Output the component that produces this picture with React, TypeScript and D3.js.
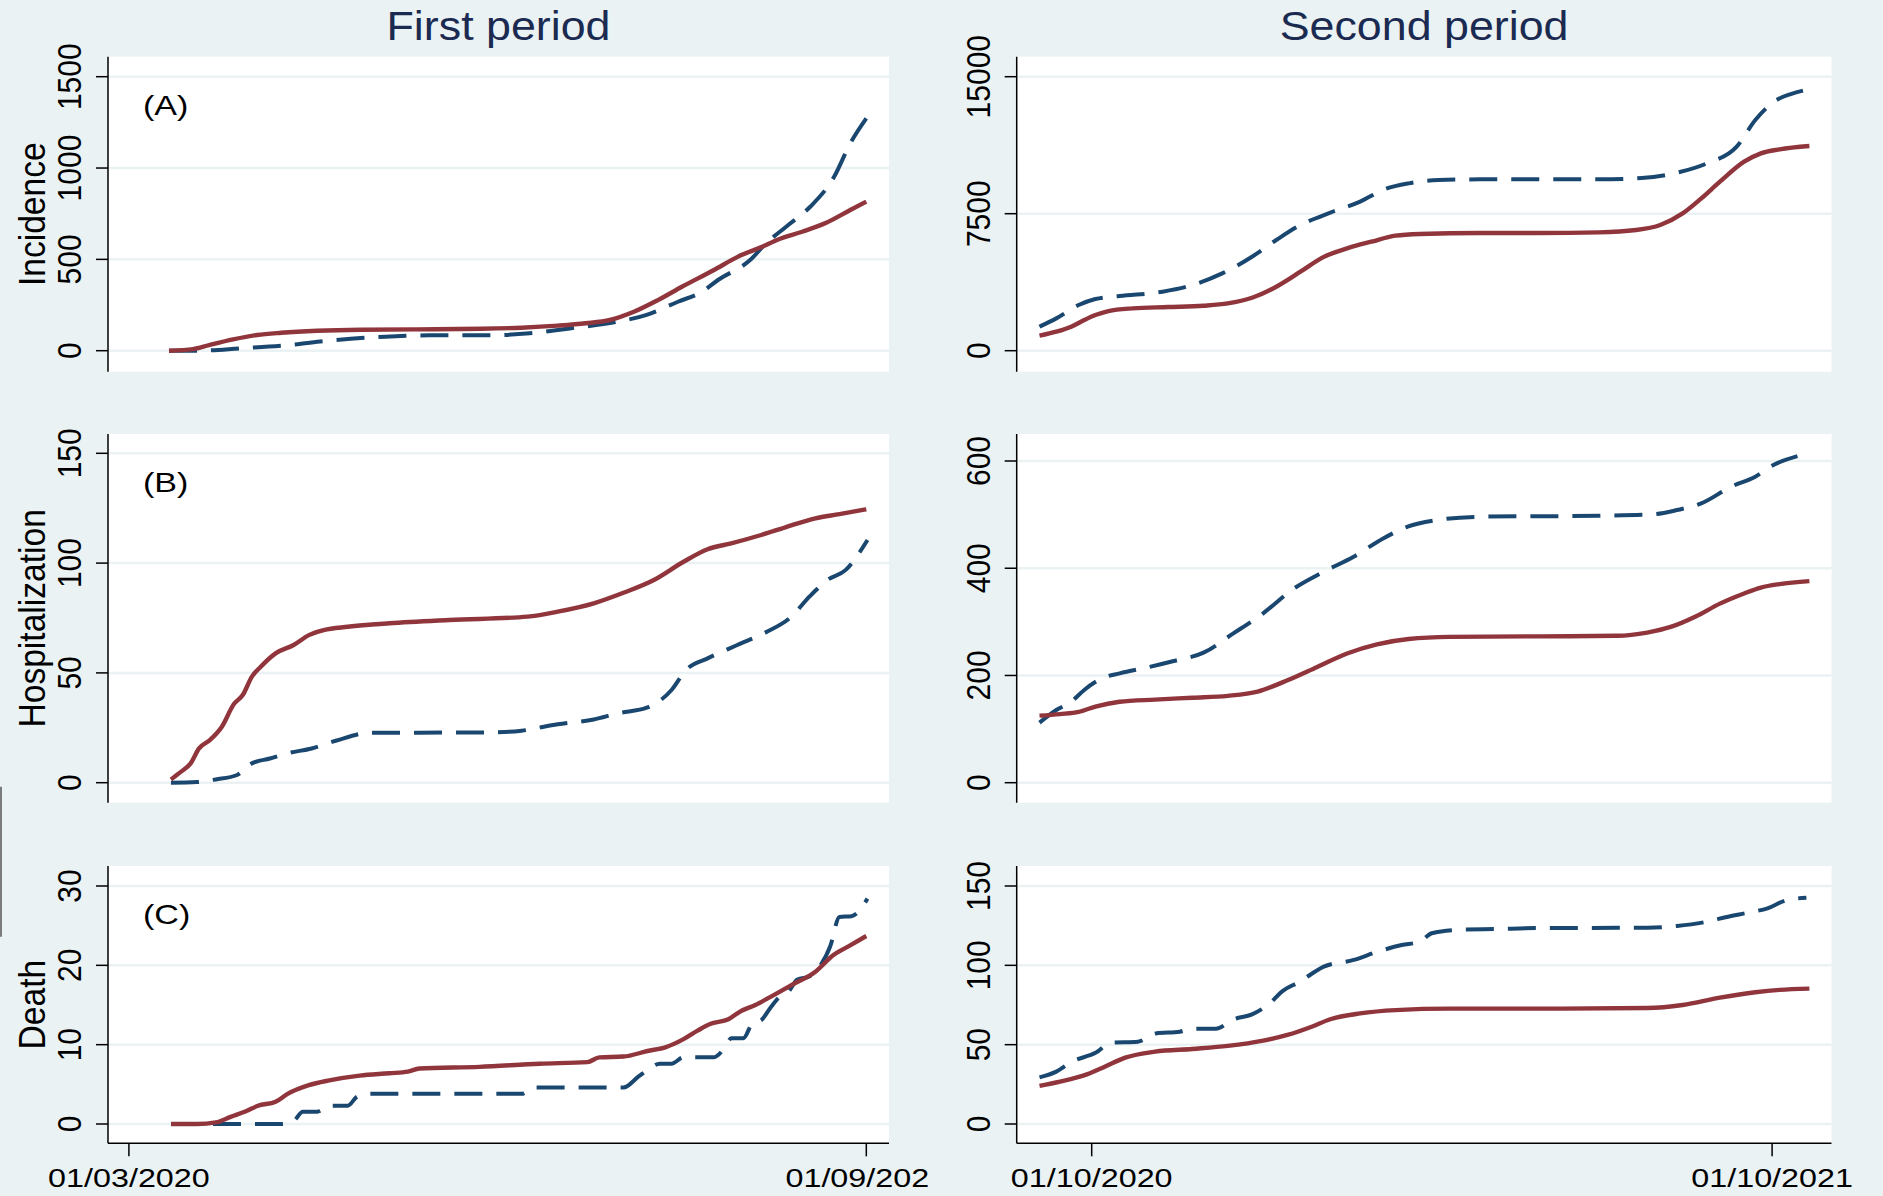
import React from 'react'
import * as d3 from 'd3'

// day offsets: first period from 01/03/2020, second period from 01/10/2020
const firstBase = Date.UTC(2020, 2, 1)
const secondBase = Date.UTC(2020, 9, 1)

const periodTitles = ['First period', 'Second period']
const rowTitles = ['Incidence', 'Hospitalization', 'Death']
const panelLabels = ['(A)', '(B)', '(C)']
const firstTickLabels = ['01/03/2020', '01/09/2020']
const secondTickLabels = ['01/10/2020', '01/10/2021']

const incidenceFirstSolid: [number, number][] = [[10,0],[16,9],[20,31],[26,62],[32,86],[38,98],[47,109],[58,115],[72,117],[88,120],[98,126],[107,137],[114,150],[120,168],[126,213],[132,277],[138,350],[146,442],[152,515],[158,569],[162,609],[168,651],[174,700],[180,770],[184,816]]
const incidenceFirstDashed: [number, number][] = [[10,0],[17,0],[28,13],[40,31],[50,55],[64,77],[75,84],[88,84],[100,95],[110,122],[122,159],[129,195],[137,268],[143,323],[147,387],[155,496],[159,588],[164,679],[170,788],[176,953],[180,1135],[184,1272]]
const incidenceSecondSolid: [number, number][] = [[-28,821],[-19,1040],[-11,1314],[-4,1679],[2,1953],[9,2172],[22,2318],[41,2390],[60,2463],[73,2591],[86,2901],[99,3504],[112,4325],[124,5109],[137,5602],[150,5967],[163,6296],[176,6387],[208,6442],[240,6442],[272,6478],[292,6606],[305,6880],[317,7518],[327,8339],[337,9252],[350,10347],[359,10803],[369,11022],[385,11204]]
const incidenceSecondDashed: [number, number][] = [[-28,1314],[-19,1770],[-7,2500],[2,2828],[15,2993],[38,3230],[54,3595],[70,4234],[86,5146],[99,6058],[112,6880],[128,7555],[144,8157],[157,8832],[170,9161],[186,9343],[208,9380],[272,9380],[295,9453],[314,9745],[330,10255],[346,11168],[356,12628],[366,13631],[375,14051],[383,14270]]

const hospFirstSolid: [number, number][] = [[10.5,1.5],[12.7,4.6],[15.4,8.8],[17.5,15.6],[20.2,19.4],[23.2,25.5],[26.2,35.8],[28.4,39.9],[30.7,48.3],[32.9,52.8],[36.6,58.9],[41.1,62.7],[44.9,67.2],[48.6,69.5],[54.6,71],[65,72.6],[80,74.1],[99.5,75.6],[107,77.9],[116,81.7],[123.4,86.5],[131,92.3],[138.4,100.6],[144.4,106.3],[150.3,109],[157.8,112.8],[163.8,116.3],[171.3,120.4],[177.3,122.3],[184,124.5]]
const hospFirstDashed: [number, number][] = [[10.5,0],[17,0.3],[21.7,1.5],[27,3.5],[30.7,8.8],[35.2,11],[39.6,13.4],[45.6,15.6],[51.6,19.1],[60.6,22.8],[72.5,22.8],[90.5,22.9],[98,23.7],[107,26.6],[116,28.8],[122,31.6],[129.4,34.3],[135.4,42.2],[139,51.3],[144.4,56.6],[151.8,62.7],[159.3,68.8],[165.3,75.6],[169.8,84.7],[174.3,92.3],[178.8,96.8],[184.3,110.5]]
const hospSecondSolid: [number, number][] = [[-28,125],[-17,128],[-7,132],[2,142],[15,151],[34,155],[54,158.5],[73,162],[89,170],[105,191],[121,216],[137,241],[153,258],[170,268],[192,272],[240,273],[282,274],[298,280],[311,291],[324,310],[337,334],[350,353],[359,364],[369,370.5],[385,376]]
const hospSecondDashed: [number, number][] = [[-28,112],[-19,135.5],[-11,151],[-4,173],[5.5,194.6],[15,204],[31,216],[44,227],[60,242.5],[76,278.5],[92,316],[108,361],[124.5,393.5],[140.5,421.5],[156.6,456],[169.5,477.5],[185.6,490],[208,496],[272,498],[301,500.5],[314,508.5],[327,521],[343,552],[356,570.7],[365.7,592.5],[378.6,609]]

const deathFirstSolid: [number, number][] = [[10.5,0],[17,0],[21.7,0.2],[25.4,0.9],[29.2,1.6],[32.2,2.3],[36.6,2.8],[39.6,3.8],[44.9,4.9],[50,5.5],[57.6,6.1],[65,6.4],[69.6,6.6],[72.5,7.0],[87.5,7.2],[102.5,7.6],[114.4,7.8],[117.4,8.4],[123.4,8.5],[129.4,9.2],[134,9.7],[138.4,10.7],[142,11.8],[145,12.6],[149.6,13.2],[152.6,14.2],[156.3,15],[160,16],[165.3,17.5],[171.3,19.2],[175.8,21.3],[180.3,22.6],[184,23.7]]
const deathFirstDashed: [number, number][] = [[10.5,0],[38,0],[41,0.3],[43.4,1.55],[47,1.55],[50,2.3],[54.6,2.3],[56.8,3.4],[59,3.8],[98,3.8],[101,4.6],[123.4,4.6],[127.2,6.0],[130,7.0],[132.4,7.6],[135.4,7.6],[138.4,8.4],[145.8,8.4],[148.8,9.7],[150.3,10.8],[153.3,10.8],[155.6,12.7],[157.8,13.1],[160,14.6],[162.3,16],[164.6,16.7],[166.8,18.2],[169.8,18.6],[172,19.6],[175,22.4],[177.3,26.1],[180.3,26.2],[184.3,28.4]]
const deathSecondSolid: [number, number][] = [[-28,24],[-17,26.7],[-2.6,31.3],[7,36.1],[18,41.8],[34,45.6],[54,47.3],[73,49.2],[92,52.5],[105,56.1],[118,61.3],[128,66],[144,69.7],[163,71.8],[192,72.7],[240,72.7],[298,73.1],[317,75],[337,79.6],[356,83],[369,84.5],[385,85.3]]
const deathSecondDashed: [number, number][] = [[-28,29.4],[-19,33],[-10.6,39.3],[2.3,45],[10.3,51.3],[24.8,51.9],[34.4,57.1],[47.3,58.2],[53.7,60.1],[66.6,60.1],[76.2,66],[86,69.1],[95.5,76],[102,83.4],[111.6,89.7],[124.5,99.2],[140.5,103.4],[153.4,108.6],[166.3,112.8],[176,114.9],[182.4,120.2],[195.3,122.3],[217.8,122.9],[240.3,123.5],[298,123.7],[314,124.8],[330,127.5],[340,130.3],[352.8,133.4],[362.5,135.9],[372,140.8],[383.4,142.6]]

const yTicks = [
  [[0, 500, 1000, 1500], [0, 7500, 15000]],
  [[0, 50, 100, 150], [0, 200, 400, 600]],
  [[0, 10, 20, 30], [0, 50, 100, 150]],
]
const series = [
  [[incidenceFirstSolid, incidenceFirstDashed], [incidenceSecondSolid, incidenceSecondDashed]],
  [[hospFirstSolid, hospFirstDashed], [hospSecondSolid, hospSecondDashed]],
  [[deathFirstSolid, deathFirstDashed], [deathSecondSolid, deathSecondDashed]],
]

const W = 1883
const H = 1196
const BG = '#eaf2f3'
const RED = '#90353b'
const BLUE = '#1a476f'
const FONT = '"Liberation Sans", Arial, Helvetica, sans-serif'

// layout
const cols = [
  { x0: 108, x1: 889, base: firstBase, dates: [Date.UTC(2020, 2, 1), Date.UTC(2020, 8, 1)], px: [128.9, 866.3], labels: firstTickLabels },
  { x0: 1016.7, x1: 1831.5, base: secondBase, dates: [Date.UTC(2020, 9, 1), Date.UTC(2021, 9, 1)], px: [1091.7, 1772.1], labels: secondTickLabels },
]
const rows = [
  { top: 56.7, bottom: 371.7, zeroY: 350.7, maxY: 76.7 },
  { top: 434, bottom: 802.7, zeroY: 782.7, maxY: [453.3, 461] },
  { top: 866, bottom: 1143.3, zeroY: 1124, maxY: 886 },
]

function Panel({ r, c }: { r: number; c: number }) {
  const col = cols[c]
  const row = rows[r]
  const ticks = yTicks[r][c]
  const maxY = Array.isArray(row.maxY) ? row.maxY[c] : row.maxY
  const x = d3.scaleUtc().domain(col.dates.map(d => new Date(d))).range(col.px)
  const y = d3.scaleLinear().domain([0, ticks[ticks.length - 1]]).range([row.zeroY, maxY])
  const line = d3.line<[number, number]>()
    .x(d => x(new Date(col.base + d[0] * 86400000)))
    .y(d => y(d[1]))
    .curve(d3.curveMonotoneX)
  const [solid, dashed] = series[r][c]
  const isBottom = r === 2

  return (
    <g>
      <rect x={col.x0} y={row.top} width={col.x1 - col.x0} height={row.bottom - row.top} fill="#ffffff" />
      {ticks.map(t => (
        <line key={'g' + t} x1={col.x0} x2={col.x1} y1={y(t)} y2={y(t)} stroke={BG} strokeWidth={2.5} />
      ))}
      <path d={line(dashed) || ''} fill="none" stroke={BLUE} strokeWidth={4} strokeDasharray="28,14" />
      <path d={line(solid) || ''} fill="none" stroke={RED} strokeWidth={4.4} strokeLinejoin="round" />
      <line x1={col.x0} x2={col.x0} y1={row.top} y2={row.bottom} stroke="#000" strokeWidth={1.5} />
      {ticks.map(t => (
        <g key={'t' + t}>
          <line x1={col.x0 - 12} x2={col.x0} y1={y(t)} y2={y(t)} stroke="#000" strokeWidth={1.5} />
          <text
            transform={`translate(${col.x0 - 27},${y(t)}) rotate(-90) scale(1,1.12)`}
            textAnchor="middle"
            fontSize={30}
            fontFamily={FONT}
            fill="#000"
          >{t}</text>
        </g>
      ))}
      {c === 0 && (
        <>
          <text
            transform={`translate(45,${(row.top + row.bottom) / 2}) rotate(-90) scale(1,1.12)`}
            textAnchor="middle"
            fontSize={33.6}
            fontFamily={FONT}
            fill="#000"
          >{rowTitles[r]}</text>
          <text
            transform={`translate(143,${row.top + 58.3}) scale(1.2,1)`}
            fontSize={28.4}
            fontFamily={FONT}
            fill="#000"
          >{panelLabels[r]}</text>
        </>
      )}
      {isBottom && (
        <g clipPath={c === 0 ? 'url(#leftClip)' : undefined}>
          <line x1={col.x0} x2={col.x1} y1={row.bottom} y2={row.bottom} stroke="#000" strokeWidth={1.5} />
          {col.dates.map((d, i) => (
            <g key={'x' + i}>
              <line x1={x(new Date(d))} x2={x(new Date(d))} y1={row.bottom} y2={row.bottom + 13} stroke="#000" strokeWidth={1.5} />
              <text
                transform={`translate(${x(new Date(d))},1187) scale(1.22,1)`}
                textAnchor="middle"
                fontSize={26.5}
                fontFamily={FONT}
                fill="#000"
              >{col.labels[i]}</text>
            </g>
          ))}
        </g>
      )}
    </g>
  )
}

export default function App() {
  return (
    <svg width={W} height={H} style={{ position: 'absolute', left: 0, top: 0, display: 'block' }}>
      <defs>
        <clipPath id="leftClip">
          <rect x={0} y={0} width={928} height={H} />
        </clipPath>
      </defs>
      <rect x={0} y={0} width={W} height={H} fill={BG} />
      {cols.map((col, c) => (
        <text
          key={'title' + c}
          transform={`translate(${(col.x0 + col.x1) / 2},40) scale(1.12,1)`}
          textAnchor="middle"
          fontSize={40}
          fontFamily={FONT}
          fill="#1b2a50"
        >{periodTitles[c]}</text>
      ))}
      {rows.map((_, r) => cols.map((_, c) => <Panel key={r + '-' + c} r={r} c={c} />))}
      <line x1={1} x2={1} y1={786.7} y2={936.7} stroke="#555" strokeWidth={1.5} />
    </svg>
  )
}
